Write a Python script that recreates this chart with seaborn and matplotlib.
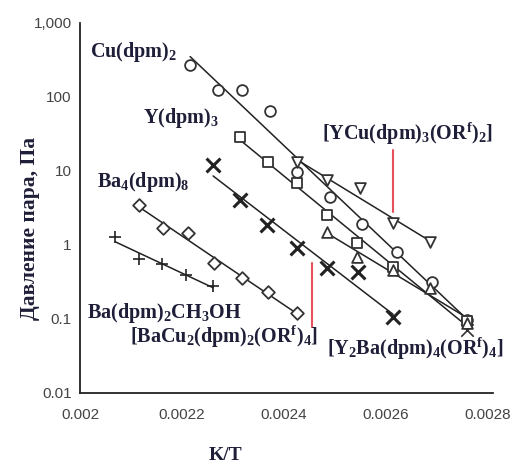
import numpy as np
import pandas as pd
import matplotlib
matplotlib.use("Agg")
import matplotlib.pyplot as plt
import matplotlib.ticker as mticker
import seaborn as sns

# ---------------- data ----------------
cu_x = [0.002216, 0.002271, 0.002318, 0.002373, 0.002425, 0.002490, 0.002553, 0.002622, 0.002690, 0.002759]
cu_y = [270, 124, 124, 65, 9.7, 4.46, 1.92, 0.80, 0.316, 0.098]

y_x = [0.002314, 0.002369, 0.002425, 0.002484, 0.002543, 0.002614, 0.002759]
y_y = [28.8, 13.2, 6.9, 2.54, 1.06, 0.50, 0.095]

ycu_x = [0.002425, 0.002484, 0.002549, 0.002614, 0.002686]
ycu_y = [13.2, 7.55, 5.9, 1.98, 1.10]

y2ba_x = [0.002484, 0.002543, 0.002614, 0.002686, 0.002759]
y2ba_y = [1.50, 0.69, 0.46, 0.26, 0.088]

bacu_x = [0.002261, 0.002314, 0.002367, 0.002425, 0.002484, 0.002545, 0.002614]
bacu_y = [12.1, 4.05, 1.86, 0.91, 0.49, 0.43, 0.106]

ba4_x = [0.002116, 0.002163, 0.002212, 0.002263, 0.002318, 0.002369, 0.002425]
ba4_y = [3.47, 1.70, 1.45, 0.57, 0.36, 0.23, 0.12]

bame_x = [0.002069, 0.002116, 0.002161, 0.002208, 0.002261]
bame_y = [1.28, 0.65, 0.55, 0.39, 0.28]

# lone thin cross near the convergence point
lone_x = [0.002759]
lone_y = [0.072]

series_names = ["Cu", "Y", "YCu", "Y2Ba", "BaCu2", "Ba4", "BaMeOH"]
series_x = [cu_x, y_x, ycu_x, y2ba_x, bacu_x, ba4_x, bame_x]
series_y = [cu_y, y_y, ycu_y, y2ba_y, bacu_y, ba4_y, bame_y]
markers = {"Cu": "o", "Y": "s", "YCu": "v", "Y2Ba": "^", "BaCu2": "x", "Ba4": "D", "BaMeOH": "+"}

labels = [r"Cu(dpm)$_2$", r"Y(dpm)$_3$", r"Ba$_4$(dpm)$_8$",
          r"[YCu(dpm)$_3$(OR$^f$)$_2$]", r"Ba(dpm)$_2$CH$_3$OH",
          r"[BaCu$_2$(dpm)$_2$(OR$^f$)$_4$]", r"[Y$_2$Ba(dpm)$_4$(OR$^f$)$_4$]"]
label_x = [0.00202, 0.002124, 0.002033, 0.002475, 0.002014, 0.002098, 0.002484]
label_y = [400, 52, 7.1, 32, 0.12, 0.057, 0.040]

yticks = [0.01, 0.1, 1, 10, 100, 1000]
ytick_labels = ["0.01", "0.1", "1", "10", "100", "1,000"]
xtick_labels = ["0.002", "0.0022", "0.0024", "0.0026", "0.0028"]

# ---------------- figure ----------------
sns.set_theme(style="white")
plt.rcParams["mathtext.fontset"] = "custom"
plt.rcParams["mathtext.default"] = "regular"
plt.rcParams["mathtext.rm"] = "Liberation Serif:bold"
plt.rcParams["mathtext.it"] = "Liberation Serif:bold"
plt.rcParams["mathtext.bf"] = "Liberation Serif:bold"

fig = plt.figure(figsize=(5.18, 4.68), dpi=100)
ax = fig.add_axes([80 / 518, (468 - 393) / 468, 413 / 518, 370 / 468])

rows = []
for n, xs, ys in zip(series_names, series_x, series_y):
    for a, b in zip(xs, ys):
        rows.append({"series": n, "x": a, "y": b})
df = pd.DataFrame(rows)

# fitted straight lines (log scale)
fit_rows = []
for n, xs, ys in zip(series_names, series_x, series_y):
    k, c = np.polyfit(xs, np.log10(ys), 1)
    for a in (min(xs), max(xs)):
        fit_rows.append({"series": n, "x": a, "y": 10 ** (k * a + c)})
fit = pd.DataFrame(fit_rows)

sns.lineplot(data=fit, x="x", y="y", units="series", estimator=None,
             color="#222222", lw=1.1, ax=ax, legend=False)

for n in series_names:
    sub = df[df.series == n]
    m = markers[n]
    if m in ("x", "+"):
        sns.scatterplot(data=sub, x="x", y="y", marker=m, s=100 if m == "x" else 80,
                        color="#222222", linewidth=2.2 if m == "x" else 1.2, ax=ax, zorder=3)
    else:
        sns.scatterplot(data=sub, x="x", y="y", marker=m, s=60 if m != "D" else 42,
                        facecolor="white", edgecolor="#333333", linewidth=1.3, ax=ax, zorder=3)
sns.scatterplot(x=lone_x, y=lone_y, marker="x", s=80, color="#333333", linewidth=1.2, ax=ax, zorder=2)

ax.set_xlabel("")
ax.set_ylabel("")
ax.set_yscale("log")
ax.set_xlim(0.002, 0.00281)
ax.set_ylim(0.01, 1000)

ax.set_yticks(yticks)
ax.set_yticklabels(ytick_labels)
ax.yaxis.set_minor_locator(mticker.LogLocator(base=10, subs=np.arange(2, 10)))
ax.yaxis.set_minor_formatter(mticker.NullFormatter())
ax.set_xticks(np.arange(0.002, 0.00281, 0.0001))
ax.set_xticklabels([xtick_labels[i // 2] if i % 2 == 0 else "" for i in range(9)])
ax.xaxis.set_minor_locator(mticker.MultipleLocator(0.00002))

for lab in ax.get_xticklabels() + ax.get_yticklabels():
    lab.set_family("Liberation Sans")
    lab.set_fontsize(11)
    lab.set_color("#444444")
ax.tick_params(axis="both", which="major", direction="inout", length=6, width=1.0, color="#333333", pad=3)
ax.tick_params(axis="both", which="minor", direction="inout", length=3, width=0.8, color="#333333")
ax.tick_params(axis="x", pad=8)

for s in ("top", "right"):
    ax.spines[s].set_visible(False)
for s in ("left", "bottom"):
    ax.spines[s].set_color("#222222")
    ax.spines[s].set_linewidth(1.3)
ax.plot(1, 0, ">", color="#111111", markersize=9, transform=ax.get_yaxis_transform(), clip_on=False)

text_color = "#1e1e38"
for t, lx, ly in zip(labels, label_x, label_y):
    ax.text(lx, ly, t, family="Liberation Serif", fontweight="bold", fontsize=14.5,
            color=text_color, va="center", ha="left")

# red pointer lines
ax.plot([0.002614, 0.002614], [19.2, 2.8], color="#e8505b", lw=1.5)
ax.plot([0.002455, 0.002455], [0.57, 0.078], color="#e8505b", lw=1.5)

fig.text(225 / 518, 1 - 455 / 468, "K/T", family="Liberation Serif", fontweight="bold",
         fontsize=14, color=text_color, ha="center", va="center")
fig.text(30 / 518, 1 - 228 / 468, "Давление пара, Па", family="Liberation Serif", fontweight="bold",
         fontsize=15.5, color=text_color, ha="center", va="center", rotation=90)

fig.savefig("out.png", dpi=100)
